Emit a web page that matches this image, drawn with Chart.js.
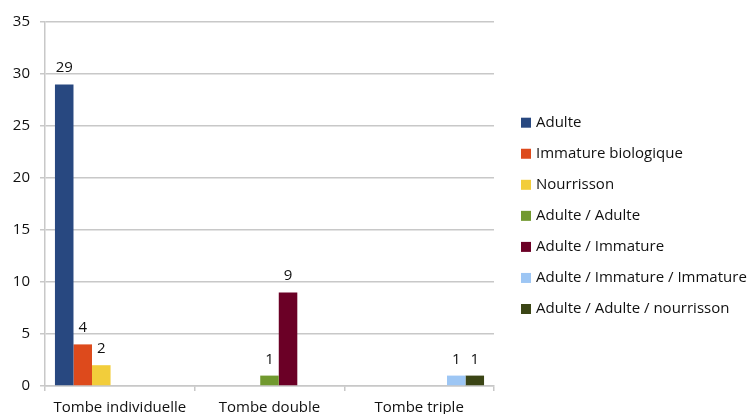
<!DOCTYPE html>
<html>
<head>
<meta charset="utf-8">
<script src="https://cdn.jsdelivr.net/npm/chart.js@4/dist/chart.umd.min.js"></script>
<style>
html,body{margin:0;padding:0;background:#fff;}
#wrap{width:752px;height:414px;position:relative;}
</style>
</head>
<body>
<div id="wrap"><canvas id="c" width="752" height="414"></canvas></div>
<script>
const categories = ["Tombe individuelle", "Tombe double", "Tombe triple"];
const seriesNames = ["Adulte", "Immature biologique", "Nourrisson", "Adulte / Adulte", "Adulte / Immature", "Adulte / Immature / Immature", "Adulte / Adulte / nourrisson"];
const adulte = [29, null, null];
const immatureBiologique = [4, null, null];
const nourrisson = [2, null, null];
const adulteAdulte = [null, 1, null];
const adulteImmature = [null, 9, null];
const adulteImmatureImmature = [null, null, 1];
const adulteAdulteNourrisson = [null, null, 1];
const yTicks = [0, 5, 10, 15, 20, 25, 30, 35];
const seriesColors = ["#284880", "#dd4a1c", "#f2cd3b", "#71992f", "#6b0026", "#9dc6f4", "#3b4515"];

const seriesValues = [adulte, immatureBiologique, nourrisson, adulteAdulte, adulteImmature, adulteImmatureImmature, adulteAdulteNourrisson];
const FONT = "'Open Sans', sans-serif";
const GRID = "#c8c8c8";
const TEXT = "#111111";

const valueLabels = {
  id: 'valueLabels',
  afterDatasetsDraw(chart) {
    const ctx = chart.ctx;
    ctx.save();
    ctx.font = "15px " + FONT;
    ctx.fillStyle = TEXT;
    ctx.textAlign = "center";
    ctx.textBaseline = "alphabetic";
    chart.data.datasets.forEach((ds, i) => {
      const meta = chart.getDatasetMeta(i);
      meta.data.forEach((bar, j) => {
        const v = ds.data[j];
        if (v === null || v === undefined) return;
        ctx.fillText(String(v), bar.x, bar.y - 12);
      });
    });
    ctx.restore();
  }
};

const sideLegend = {
  id: 'sideLegend',
  afterDraw(chart) {
    const ctx = chart.ctx;
    ctx.save();
    ctx.font = "15px " + FONT;
    ctx.textBaseline = "middle";
    ctx.textAlign = "left";
    chart.data.datasets.forEach((ds, i) => {
      const y = 122.7 + i * 31.05;
      ctx.fillStyle = ds.backgroundColor;
      ctx.fillRect(521, y - 5, 10, 10);
      ctx.fillStyle = TEXT;
      ctx.fillText(ds.label, 536, y);
    });
    ctx.restore();
  }
};

new Chart(document.getElementById('c'), {
  type: 'bar',
  data: {
    labels: categories,
    datasets: seriesNames.map((name, i) => ({
      label: name,
      data: seriesValues[i],
      backgroundColor: seriesColors[i],
      borderWidth: 0,
      barPercentage: 1,
      categoryPercentage: 0.867
    }))
  },
  options: {
    responsive: false,
    animation: false,
    layout: { padding: { top: 22, right: 258, bottom: 0, left: 0 } },
    plugins: { legend: { display: false }, tooltip: { enabled: false } },
    scales: {
      x: {
        offset: true,
        afterFit: (s) => { s.height = 28; },
        grid: {
          offset: true,
          color: (c) => c.index === 3 ? GRID : 'rgba(0,0,0,0)',
          tickColor: GRID,
          tickLength: 5,
          lineWidth: 1.5
        },
        border: { color: GRID, width: 1.5 },
        ticks: { font: { family: FONT, size: 15 }, color: TEXT, padding: 8, maxRotation: 0, autoSkip: false }
      },
      y: {
        min: 0, max: 35,
        afterFit: (s) => { s.width = 45; },
        afterBuildTicks: (s) => { s.ticks = yTicks.map(v => ({ value: v })); },
        grid: { color: GRID, tickColor: GRID, tickLength: 5, lineWidth: 1.5 },
        border: { color: GRID, width: 1.5 },
        ticks: { font: { family: FONT, size: 15 }, color: TEXT, padding: 10 }
      }
    }
  },
  plugins: [valueLabels, sideLegend]
});
</script>
</body>
</html>
